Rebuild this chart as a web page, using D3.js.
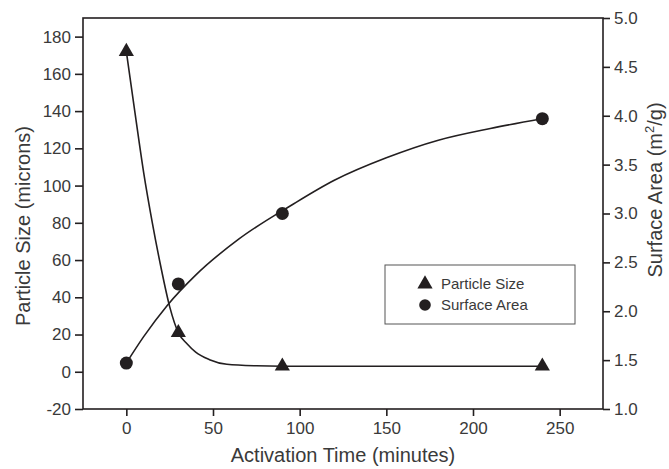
<!DOCTYPE html>
<html>
<head>
<meta charset="utf-8">
<script src="https://cdn.jsdelivr.net/npm/d3@7"></script>
<style>
  body { margin: 0; background: #fff; }
  text { font-family: "Liberation Sans", Arial, sans-serif; fill: #3a3a3a; }
</style>
</head>
<body>
<div class="chart"></div>
<script>
var times = [0, 30, 90, 240];               // activation time (minutes)
var particleSize = [172, 21, 3, 3];         // microns
var surfaceArea = [1.47, 2.28, 3.0, 3.97];  // m2/g

// fitted curves
var psCurveT = [0, 5, 10, 15, 20, 25, 30, 35, 40, 48, 58, 75, 90, 160, 240];
var psCurveV = [172, 139, 107, 80, 56, 35, 21, 15, 10.5, 6.5, 4, 3.2, 3, 3, 3];
var saCurveT = [0, 10, 23.6, 40, 65, 95.7, 120, 150, 180, 210, 240];
var saCurveV = [1.47, 1.74, 2.06, 2.37, 2.74, 3.09, 3.34, 3.57, 3.75, 3.87, 3.97];

var xTicks = [0, 50, 100, 150, 200, 250];
var yLeftTicks = [-20, 0, 20, 40, 60, 80, 100, 120, 140, 160, 180];
var yRightTicks = [1.0, 1.5, 2.0, 2.5, 3.0, 3.5, 4.0, 4.5, 5.0];

var width = 669, height = 469;
var mLeft = 83, mRight = 603, mTop = 18, mBottom = 409;
var ink = "#231f20";

var svg = d3.select(".chart").append("svg")
    .attr("width", width)
    .attr("height", height);

var x = d3.scaleLinear().domain([-25, 275]).range([mLeft, mRight]);
var yL = d3.scaleLinear().domain([-20, 190]).range([mBottom, mTop]);
var yR = d3.scaleLinear().domain([1, 5]).range([mBottom, mTop]);

// axes
var gx = svg.append("g").attr("transform", "translate(0," + mBottom + ")")
    .call(d3.axisBottom(x).tickValues(xTicks).tickSize(7).tickPadding(6).tickSizeOuter(0));
var gl = svg.append("g").attr("transform", "translate(" + mLeft + ",0)")
    .call(d3.axisLeft(yL).tickValues(yLeftTicks).tickFormat(function(d){ return String(d); })
        .tickSize(8).tickPadding(4).tickSizeOuter(0));
var gr = svg.append("g").attr("transform", "translate(" + mRight + ",0)")
    .call(d3.axisRight(yR).tickValues(yRightTicks).tickFormat(d3.format(".1f")).tickSize(7).tickPadding(4).tickSizeOuter(0));

[gx, gl, gr].forEach(function(g){
    g.selectAll("text").style("font-size", "17px").attr("fill", "#3a3a3a")
        .style("font-family", "'Liberation Sans', Arial, sans-serif");
    g.selectAll("line").attr("stroke", ink).attr("stroke-width", 1.6);
    g.select(".domain").remove();
});

// frame
svg.append("rect")
    .attr("x", mLeft).attr("y", mTop)
    .attr("width", mRight - mLeft).attr("height", mBottom - mTop)
    .attr("fill", "none").attr("stroke", ink).attr("stroke-width", 1.6);

// fitted curves
var psLine = d3.line()
    .x(function(d, i){ return x(psCurveT[i]); })
    .y(function(d){ return yL(d); })
    .curve(d3.curveMonotoneX);
var saLine = d3.line()
    .x(function(d, i){ return x(saCurveT[i]); })
    .y(function(d){ return yR(d); })
    .curve(d3.curveMonotoneX);

svg.append("path").attr("d", psLine(psCurveV))
    .attr("fill", "none").attr("stroke", ink).attr("stroke-width", 1.6);
svg.append("path").attr("d", saLine(saCurveV))
    .attr("fill", "none").attr("stroke", ink).attr("stroke-width", 1.6);

// markers
var tri = d3.symbol().type(d3.symbolTriangle).size(100);
svg.selectAll(".tri").data(particleSize).enter().append("path")
    .attr("class", "tri")
    .attr("d", tri)
    .attr("transform", function(d, i){ return "translate(" + x(times[i]) + "," + yL(d) + ")"; })
    .attr("fill", ink);

svg.selectAll(".dot").data(surfaceArea).enter().append("circle")
    .attr("class", "dot")
    .attr("cx", function(d, i){ return x(times[i]); })
    .attr("cy", function(d){ return yR(d); })
    .attr("r", 6.5)
    .attr("fill", ink);

// legend
var lg = svg.append("g").attr("transform", "translate(385,265)");
lg.append("rect").attr("width", 190).attr("height", 59)
    .attr("fill", "#fff").attr("stroke", "#555").attr("stroke-width", 1);
lg.append("path").attr("d", tri)
    .attr("transform", "translate(40,19)").attr("fill", ink);
lg.append("circle").attr("cx", 40).attr("cy", 40).attr("r", 5.8).attr("fill", ink);
lg.append("text").attr("x", 56).attr("y", 19).attr("dy", "0.35em")
    .style("font-size", "15px").text("Particle Size");
lg.append("text").attr("x", 56).attr("y", 40).attr("dy", "0.35em")
    .style("font-size", "15px").text("Surface Area");

// axis titles
svg.append("text")
    .attr("x", 343).attr("y", 462)
    .attr("text-anchor", "middle")
    .style("font-size", "20px")
    .text("Activation Time (minutes)");

svg.append("text")
    .attr("transform", "translate(30,226) rotate(-90)")
    .attr("text-anchor", "middle")
    .style("font-size", "20px")
    .text("Particle Size (microns)");

var rt = svg.append("text")
    .attr("transform", "translate(662,190) rotate(-90)")
    .attr("text-anchor", "middle")
    .style("font-size", "20px");
rt.append("tspan").text("Surface Area (m");
rt.append("tspan").attr("dy", "-8").style("font-size", "13px").text("2");
rt.append("tspan").attr("dy", "8").text("/g)");
</script>
</body>
</html>
